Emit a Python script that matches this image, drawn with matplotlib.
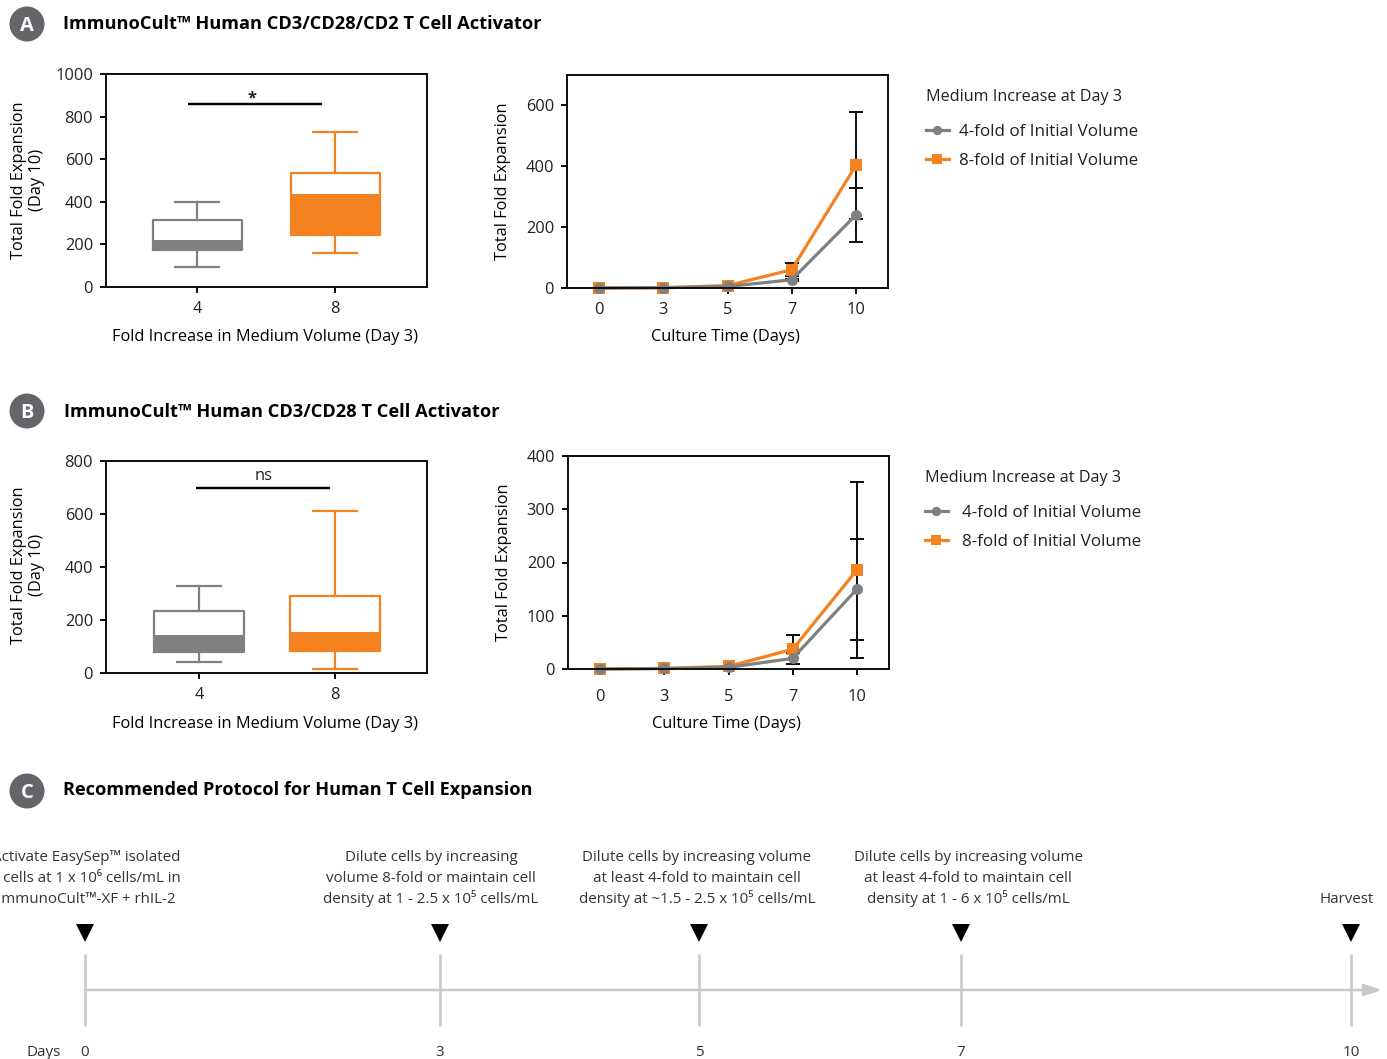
import matplotlib
matplotlib.use('Agg')
import matplotlib.pyplot as plt
from matplotlib.patches import Circle

# figure is laid out in reference pixels
W, H = 1387, 1059
PX = 0.72  # one pixel in points at dpi 100

plt.rcParams['font.family'] = ['Open Sans', 'Noto Sans', 'DejaVu Sans']
plt.rcParams['font.size'] = 11.8
plt.rcParams['text.color'] = '#231f20'

GREY = '#808080'
ORANGE = '#f58220'
BLACK = '#111111'

# box plots at day 10: low whisker, q1, median, q3, high whisker
box_labels = ['4', '8']
box_a_grey = [93, 175, 220, 315, 400]
box_a_orange = [160, 245, 435, 537, 730]
box_b_grey = [43, 78, 145, 235, 330]
box_b_orange = [15, 83, 155, 290, 613]

# time courses
days = ['0', '3', '5', '7', '10']
a_grey = [0, 1, 5, 27, 240]
a_grey_err = [0, 0, 0, 4, 90]
a_orange = [0, 1, 8, 60, 403]
a_orange_err = [0, 0, 0, 22, 177]
b_grey = [0, 1, 3, 20, 150]
b_grey_err = [0, 0, 0, 10, 95]
b_orange = [0, 1, 5, 37, 186]
b_orange_err = [0, 0, 0, 27, 165]

# protocol timeline
step_days = ['0', '3', '5', '7', '10']
step_px = [85, 440, 699, 961, 1351]
step_text = [
    ['Activate EasySep™ isolated', 'T cells at 1 x 10⁶ cells/mL in', 'ImmunoCult™-XF + rhIL-2'],
    ['Dilute cells by increasing', 'volume 8-fold or maintain cell', 'density at 1 - 2.5 x 10⁵ cells/mL'],
    ['Dilute cells by increasing volume', 'at least 4-fold to maintain cell', 'density at ~1.5 - 2.5 x 10⁵ cells/mL'],
    ['Dilute cells by increasing volume', 'at least 4-fold to maintain cell', 'density at 1 - 6 x 10⁵ cells/mL'],
    ['', '', 'Harvest'],
]
step_text_px = [86, 431, 697, 968, 1347]

fig = plt.figure(figsize=(W / 100, H / 100), dpi=100)


def make_axes(left, top, right, bottom):
    ax = fig.add_axes([left / W, 1 - bottom / H, (right - left) / W, (bottom - top) / H])
    for s in ax.spines.values():
        s.set_linewidth(2 * PX)
        s.set_color(BLACK)
    ax.tick_params(length=6 * PX, width=2 * PX, color=BLACK, pad=5, labelcolor='#231f20')
    ax.tick_params(axis='x', pad=6)
    return ax


def box_panel(ax, grey, orange, ymax, yticks, xlim, box_w, sig_y, sig_x, sig_text, sig_text_x, sig_text_y,
              sig_weight, xlabel_y, ylabel_y):
    for i, (vals, col) in enumerate([(grey, GREY), (orange, ORANGE)]):
        stats = [dict(whislo=vals[0], q1=vals[1], med=vals[2], q3=vals[3], whishi=vals[4], fliers=[])]
        ln = dict(color=col, linewidth=2.2 * PX)
        ax.bxp(stats, positions=[i], widths=box_w, boxprops=ln, whiskerprops=ln, capprops=ln,
               medianprops=dict(color=col, linewidth=0), showfliers=False, manage_ticks=False,
               capwidths=0.32)
        ax.bar(i, vals[2] - vals[1], bottom=vals[1], width=box_w, color=col, linewidth=0)
    ax.plot(sig_x, [sig_y, sig_y], color='black', lw=2.4 * PX, solid_capstyle='butt')
    ax.text(sig_text_x, sig_text_y, sig_text, ha='center', va='center', fontweight=sig_weight)
    ax.set_xlim(*xlim)
    ax.set_ylim(0, ymax)
    ax.set_xticks([0, 1], box_labels)
    ax.set_yticks(yticks)
    ax.set_xlabel('Fold Increase in Medium Volume (Day 3)', va='center')
    ax.xaxis.set_label_coords(0.495, xlabel_y)
    ax.set_ylabel('Total Fold Expansion\n(Day 10)', va='center', linespacing=1.12)
    ax.yaxis.set_label_coords(-0.243, ylabel_y)


def time_panel(ax, grey, grey_err, orange, orange_err, ymax, yticks, legend_xy, pad, tick_pad, xlabel_y):
    x = list(range(len(days)))
    err_style = dict(fmt='none', ecolor=BLACK, elinewidth=2 * PX, capsize=5, capthick=2 * PX)
    ax.errorbar(x, orange, yerr=orange_err, **err_style)
    ax.errorbar(x, grey, yerr=grey_err, **err_style)
    l8, = ax.plot(x, orange, color=ORANGE, lw=3.2 * PX, marker='s', ms=11.5 * PX, mew=0,
                  clip_on=False, label='8-fold of Initial Volume')
    l4, = ax.plot(x, grey, color=GREY, lw=3.2 * PX, marker='o', ms=11 * PX, mew=0,
                  clip_on=False, label='4-fold of Initial Volume')
    ax.set_xlim(-0.5, 4.5)
    ax.set_ylim(0, ymax)
    ax.set_xticks(x, days)
    ax.set_yticks(yticks)
    ax.tick_params(axis='x', pad=tick_pad)
    ax.set_xlabel('Culture Time (Days)', va='center')
    ax.xaxis.set_label_coords(0.494, xlabel_y)
    ax.set_ylabel('Total Fold Expansion', va='center')
    ax.yaxis.set_label_coords(-0.2, 0.5)
    leg = ax.legend(handles=[l4, l8], title='Medium Increase at Day 3', loc='upper left',
                    bbox_to_anchor=(legend_xy[0] / W, 1 - legend_xy[1] / H), bbox_transform=fig.transFigure,
                    frameon=False, alignment='left', borderpad=0, borderaxespad=0,
                    handlelength=1.35, handletextpad=pad, labelspacing=0.72, fontsize=12.25,
                    title_fontsize=11.6, markerscale=0.85)
    leg._legend_box.sep = 14


# panel A
ax = make_axes(106, 74, 427, 287)
box_panel(ax, box_a_grey, box_a_orange, 1000, range(0, 1001, 200), (-0.662, 1.664), 0.64,
          859, (-0.065, 0.905), '*', 0.397, 885, 'bold', -0.236, 0.502)
ax = make_axes(567, 75, 888, 288)
time_panel(ax, a_grey, a_grey_err, a_orange, a_orange_err, 700, range(0, 601, 200), (926, 89), 0.59, 6, -0.23)

# panel B
ax = make_axes(106, 461, 427, 673)
box_panel(ax, box_b_grey, box_b_orange, 800, range(0, 801, 200), (-0.684, 1.676), 0.66,
          698, (-0.02, 0.96), 'ns', 0.478, 745, 'normal', -0.24, 0.509)
ax = make_axes(568, 456, 889, 669)
time_panel(ax, b_grey, b_grey_err, b_orange, b_orange_err, 400, range(0, 401, 100), (925, 470), 0.82, 10, -0.258)

# overlay in pixel coordinates for headings and the timeline
ov = fig.add_axes([0, 0, 1, 1], zorder=5)
ov.set_xlim(0, W)
ov.set_ylim(H, 0)
ov.axis('off')
ov.patch.set_alpha(0)

# headings
for letter, cy, tx, ty, size, title in [
    ('A', 24, 63, 24, 13.15, 'ImmunoCult™ Human CD3/CD28/CD2 T Cell Activator'),
    ('B', 411, 64, 412, 13.15, 'ImmunoCult™ Human CD3/CD28 T Cell Activator'),
    ('C', 791, 63, 790, 13.05, 'Recommended Protocol for Human T Cell Expansion'),
]:
    ov.add_patch(Circle((27, cy), 17.5, color='#646569', lw=0))
    ov.text(27, cy + 2, letter, color='white', fontsize=14.5, fontweight='bold', ha='center', va='center')
    ov.text(tx, ty, title, fontsize=size, fontweight='bold', color='black', ha='left', va='center')

# timeline
LINE = '#c9c9c9'
ov.annotate('', xy=(1382, 990), xytext=(85, 990),
            arrowprops=dict(arrowstyle='-|>,head_length=0.9,head_width=0.3', color=LINE,
                            lw=2.6 * PX, shrinkA=0, shrinkB=0))
for px, day, lines, txt_px in zip(step_px, step_days, step_text, step_text_px):
    ov.plot([px, px], [954, 1026], color=LINE, lw=2.6 * PX, solid_capstyle='butt')
    ov.plot(px, 933, marker='v', color='black', ms=16 * PX * 1.1, mew=0)
    ov.text(px, 1053, day, ha='center', va='center', fontsize=11, color='#333333')
    for line, y in zip(lines, [861, 882, 903]):
        ov.text(txt_px, y, line, ha='center', va='baseline', fontsize=10.9, color='#333333')
ov.text(44, 1053, 'Days', ha='center', va='center', fontsize=11, color='#333333')

fig.savefig('out.png', dpi=100)
